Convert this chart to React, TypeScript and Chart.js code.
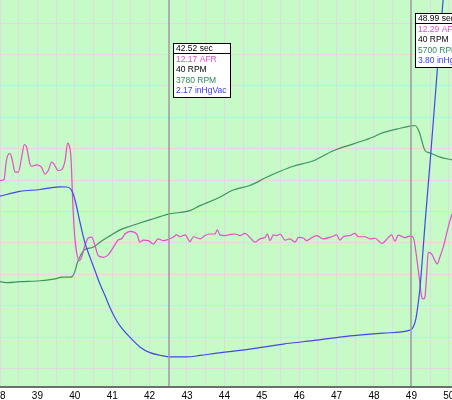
import React, { useEffect, useRef } from 'react';
import { Chart, registerables } from 'chart.js';

Chart.register(...registerables);

// ---- Data (seconds on x) ----
const afrTime = [
  38.00, 38.11, 38.16, 38.22, 38.27, 38.34, 38.40, 38.49, 38.58, 38.65, 38.71, 38.80, 38.85, 38.98,
  39.11, 39.20, 39.29, 39.38, 39.44, 39.56, 39.65, 39.74, 39.81, 39.85, 39.90, 39.94, 39.98,
  40.05, 40.12, 40.18, 40.27, 40.36, 40.45, 40.54, 40.63, 40.76, 40.90, 41.03, 41.16, 41.25, 41.34,
  41.48, 41.66, 41.74, 41.83, 41.97, 42.10, 42.23, 42.37, 42.50, 42.63, 42.72, 42.81, 42.95, 43.08,
  43.17, 43.35, 43.48, 43.61, 43.75, 43.81, 43.88, 44.02, 44.15, 44.28, 44.42, 44.55, 44.68, 44.82,
  44.95, 45.09, 45.15, 45.22, 45.31, 45.40, 45.49, 45.62, 45.75, 45.89, 45.98, 46.11, 46.20, 46.29,
  46.47, 46.64, 46.87, 47.00, 47.09, 47.18, 47.36, 47.49, 47.58, 47.76, 47.89, 48.03, 48.21, 48.38,
  48.47, 48.56, 48.65, 48.83, 48.96, 49.05, 49.14, 49.21, 49.28, 49.32, 49.36, 49.41, 49.45, 49.54,
  49.63, 49.69, 49.76, 49.85, 49.94, 50.03, 50.09,
];
const afrValues = [
  14.13, 14.16, 14.70, 14.99, 15.02, 14.74, 14.41, 14.41, 14.90, 15.32, 15.24, 14.68, 14.60, 14.65,
  14.57, 14.35, 14.46, 14.74, 14.68, 14.46, 14.49, 14.79, 15.37, 15.29, 14.85, 13.58, 12.58,
  11.74, 11.48, 11.59, 11.98, 12.23, 12.26, 11.98, 11.64, 11.59, 11.68, 11.92, 12.16, 12.20, 12.36,
  12.45, 12.36, 12.09, 12.16, 12.14, 12.03, 12.20, 12.14, 12.18, 12.25, 12.33, 12.27, 12.33, 12.11,
  12.27, 12.20, 12.31, 12.36, 12.36, 12.50, 12.33, 12.31, 12.34, 12.36, 12.31, 12.38, 12.25, 12.09,
  12.20, 12.25, 12.36, 12.14, 12.33, 12.31, 12.36, 12.16, 12.20, 12.09, 12.25, 12.23, 12.14, 12.20,
  12.31, 12.20, 12.27, 12.33, 12.16, 12.27, 12.31, 12.38, 12.27, 12.27, 12.20, 12.22, 12.05, 12.24,
  12.33, 12.12, 12.32, 12.24, 12.29, 12.25, 11.59, 10.92, 10.26, 10.21, 10.26, 11.04, 11.75, 11.70,
  11.48, 11.37, 11.59, 11.92, 12.36, 12.80, 13.03,
];

const rpmTime = [
  38.00, 38.21, 38.53, 39.07, 39.47, 39.66, 39.87, 39.93, 40.01, 40.06, 40.14, 40.27, 40.49, 40.67,
  40.94, 41.21, 41.48, 41.74, 42.01, 42.28, 42.52, 42.81, 43.08, 43.35, 43.79, 44.24, 44.68, 45.13,
  45.49, 45.84, 46.38, 46.91, 47.45, 47.98, 48.16, 48.70, 48.99, 49.10, 49.21, 49.36, 49.50, 49.77,
  50.09,
];
const rpmValues = [
  2300, 2280, 2300, 2320, 2360, 2400, 2400, 2410, 2540, 2690, 2850, 3000, 3050, 3160,
  3300, 3430, 3510, 3580, 3650, 3720, 3780, 3810, 3850, 3960, 4110, 4300, 4400, 4580,
  4710, 4820, 4940, 5160, 5310, 5460, 5530, 5650, 5700, 5710, 5570, 5170, 5110, 5020,
  4960,
];

const vacTime = [
  38.00, 38.53, 39.07, 39.34, 39.60, 39.79, 39.93, 40.01, 40.14, 40.27, 40.41, 40.54, 40.67, 40.81,
  40.94, 41.07, 41.21, 41.48, 41.74, 42.01, 42.28, 42.55, 42.99, 43.35, 43.79, 44.68, 45.57, 46.47,
  47.36, 48.25, 48.96, 49.04, 49.12, 49.18, 49.23, 49.38, 49.50, 49.63, 49.76, 49.95,
];
const vacValues = [
  11.96, 12.25, 12.37, 12.47, 12.53, 12.52, 12.25, 11.70, 10.36, 9.14, 8.22, 7.43, 6.63, 5.90,
  5.19, 4.58, 4.07, 3.36, 2.79, 2.44, 2.28, 2.18, 2.18, 2.27, 2.41, 2.65, 2.96, 3.20,
  3.46, 3.63, 3.81, 3.95, 4.50, 5.41, 6.39, 10.72, 14.02, 17.80, 21.58, 26.50,
];

const xTickLabels = [38, 39, 40, 41, 42, 43, 44, 45, 46, 47, 48, 49, 50];

// cursor readouts
const cursorTimes = [42.52, 48.99];
const cursorAFR = [12.17, 12.29];
const cursorRPM2 = [40, 40];
const cursorRPM = [3780, 5700];
const cursorVac = [2.17, 3.8];

// ---- styles ----
const BG_GREEN = '#c6fac6';
const GRID = '#e2dae2';
const MAGENTA = '#e64ccc';
const GREEN = '#3a9464';
const BLUE = '#4646ec';
const CURSOR = '#a09ca0';
const FONT = '"Liberation Sans", Arial, sans-serif';

const boxTops = [42.5, 13];

const bgPlugin = {
  id: 'bgPlugin',
  beforeDraw(chart: any) {
    const { ctx, chartArea: a } = chart;
    ctx.save();
    ctx.fillStyle = '#ffffff';
    ctx.fillRect(0, 0, chart.width, chart.height);
    ctx.fillStyle = BG_GREEN;
    ctx.fillRect(a.left, a.top, a.right - a.left, a.bottom - a.top);
    ctx.restore();
  },
};

const cursorPlugin = {
  id: 'cursorPlugin',
  afterDatasetsDraw(chart: any) {
    const { ctx, chartArea: a } = chart;
    const xs = chart.scales.x;
    ctx.save();
    ctx.strokeStyle = CURSOR;
    ctx.lineWidth = 1.5;
    cursorTimes.forEach((t) => {
      const px = xs.getPixelForValue(t);
      ctx.beginPath();
      ctx.moveTo(px, a.top);
      ctx.lineTo(px, a.bottom - 1);
      ctx.stroke();
    });
    ctx.restore();
  },
  afterDraw(chart: any) {
    const { ctx } = chart;
    const xs = chart.scales.x;
    ctx.save();
    cursorTimes.forEach((t, i) => {
      const px = Math.round(xs.getPixelForValue(t));
      const left = px + 4;
      const top = Math.round(boxTops[i]);
      const w = 57;
      const h = 54;
      ctx.fillStyle = '#ffffff';
      ctx.fillRect(left, top, w, h);
      ctx.strokeStyle = '#000000';
      ctx.lineWidth = 1;
      ctx.strokeRect(left + 0.5, top + 0.5, w, h);
      ctx.beginPath();
      ctx.moveTo(left, top + 10.5);
      ctx.lineTo(left + w, top + 10.5);
      ctx.stroke();
      ctx.font = `8.5px ${FONT}`;
      ctx.textBaseline = 'middle';
      ctx.textAlign = 'left';
      const tx = left + 3;
      ctx.fillStyle = '#000000';
      ctx.fillText(`${t.toFixed(2)} sec`, tx, top + 5.5);
      ctx.fillStyle = MAGENTA;
      ctx.fillText(`${cursorAFR[i].toFixed(2)} AFR`, tx, top + 16.5);
      ctx.fillStyle = '#000000';
      ctx.fillText(`${cursorRPM2[i]} RPM`, tx, top + 27);
      ctx.fillStyle = '#2f8a5a';
      ctx.fillText(`${cursorRPM[i]} RPM`, tx, top + 37.5);
      ctx.fillStyle = '#3a3af0';
      ctx.fillText(`${cursorVac[i].toFixed(2)} inHgVac`, tx, top + 48);
    });
    ctx.restore();
  },
};

export default function App() {
  const ref = useRef<HTMLCanvasElement | null>(null);

  useEffect(() => {
    if (!ref.current) return;
    const toPts = (ts: number[], vs: number[]) => ts.map((t, i) => ({ x: t, y: vs[i] }));
    const chart = new Chart(ref.current, {
      type: 'line',
      data: {
        datasets: [
          {
            label: 'inHgVac',
            data: toPts(vacTime, vacValues),
            yAxisID: 'yvac',
            borderColor: BLUE,
            borderWidth: 1.2,
            pointRadius: 0,
            cubicInterpolationMode: 'monotone',
          },
          {
            label: 'AFR',
            data: toPts(afrTime, afrValues),
            yAxisID: 'yafr',
            borderColor: MAGENTA,
            borderWidth: 1.2,
            pointRadius: 0,
            cubicInterpolationMode: 'monotone',
          },
          {
            label: 'RPM',
            data: toPts(rpmTime, rpmValues),
            yAxisID: 'yrpm',
            borderColor: GREEN,
            borderWidth: 1.2,
            pointRadius: 0,
            cubicInterpolationMode: 'monotone',
          },
        ],
      },
      options: {
        animation: false,
        responsive: false,
        events: [],
        layout: { padding: 0 },
        plugins: { legend: { display: false }, tooltip: { enabled: false } },
        scales: {
          x: {
            type: 'linear',
            min: xTickLabels[0],
            max: 50.086,
            grid: { color: GRID, lineWidth: 1, drawTicks: false },
            border: { display: true, color: '#6e6e6e', width: 2 },
            ticks: {
              stepSize: 0.5,
              includeBounds: false,
              autoSkip: false,
              maxRotation: 0,
              padding: 3,
              color: '#000000',
              font: { family: FONT, size: 10 },
              callback: (v: any) => (xTickLabels.includes(Number(v)) ? String(v) : ''),
            },
            afterFit: (s: any) => {
              s.paddingLeft = 0;
              s.paddingRight = 0;
              s.height = 13;
            },
          },
          yg: {
            type: 'linear',
            position: 'left',
            min: -0.592,
            max: 11.7325,
            grid: { color: GRID, lineWidth: 1, drawTicks: false },
            border: { display: false },
            ticks: { display: false, stepSize: 1, includeBounds: false },
            afterFit: (s: any) => {
              s.width = 0;
            },
          },
          yafr: { type: 'linear', display: false, min: 7.3, max: 20.1 },
          yrpm: { type: 'linear', display: false, min: 0, max: 8450 },
          yvac: { type: 'linear', display: false, min: 0.35, max: 23.9 },
        },
      } as any,
      plugins: [bgPlugin, cursorPlugin],
    });
    return () => chart.destroy();
  }, []);

  return (
    <div style={{ position: 'fixed', left: 0, top: 0, width: 452, height: 400 }}>
      <canvas ref={ref} width={452} height={400} style={{ display: 'block' }} />
    </div>
  );
}
